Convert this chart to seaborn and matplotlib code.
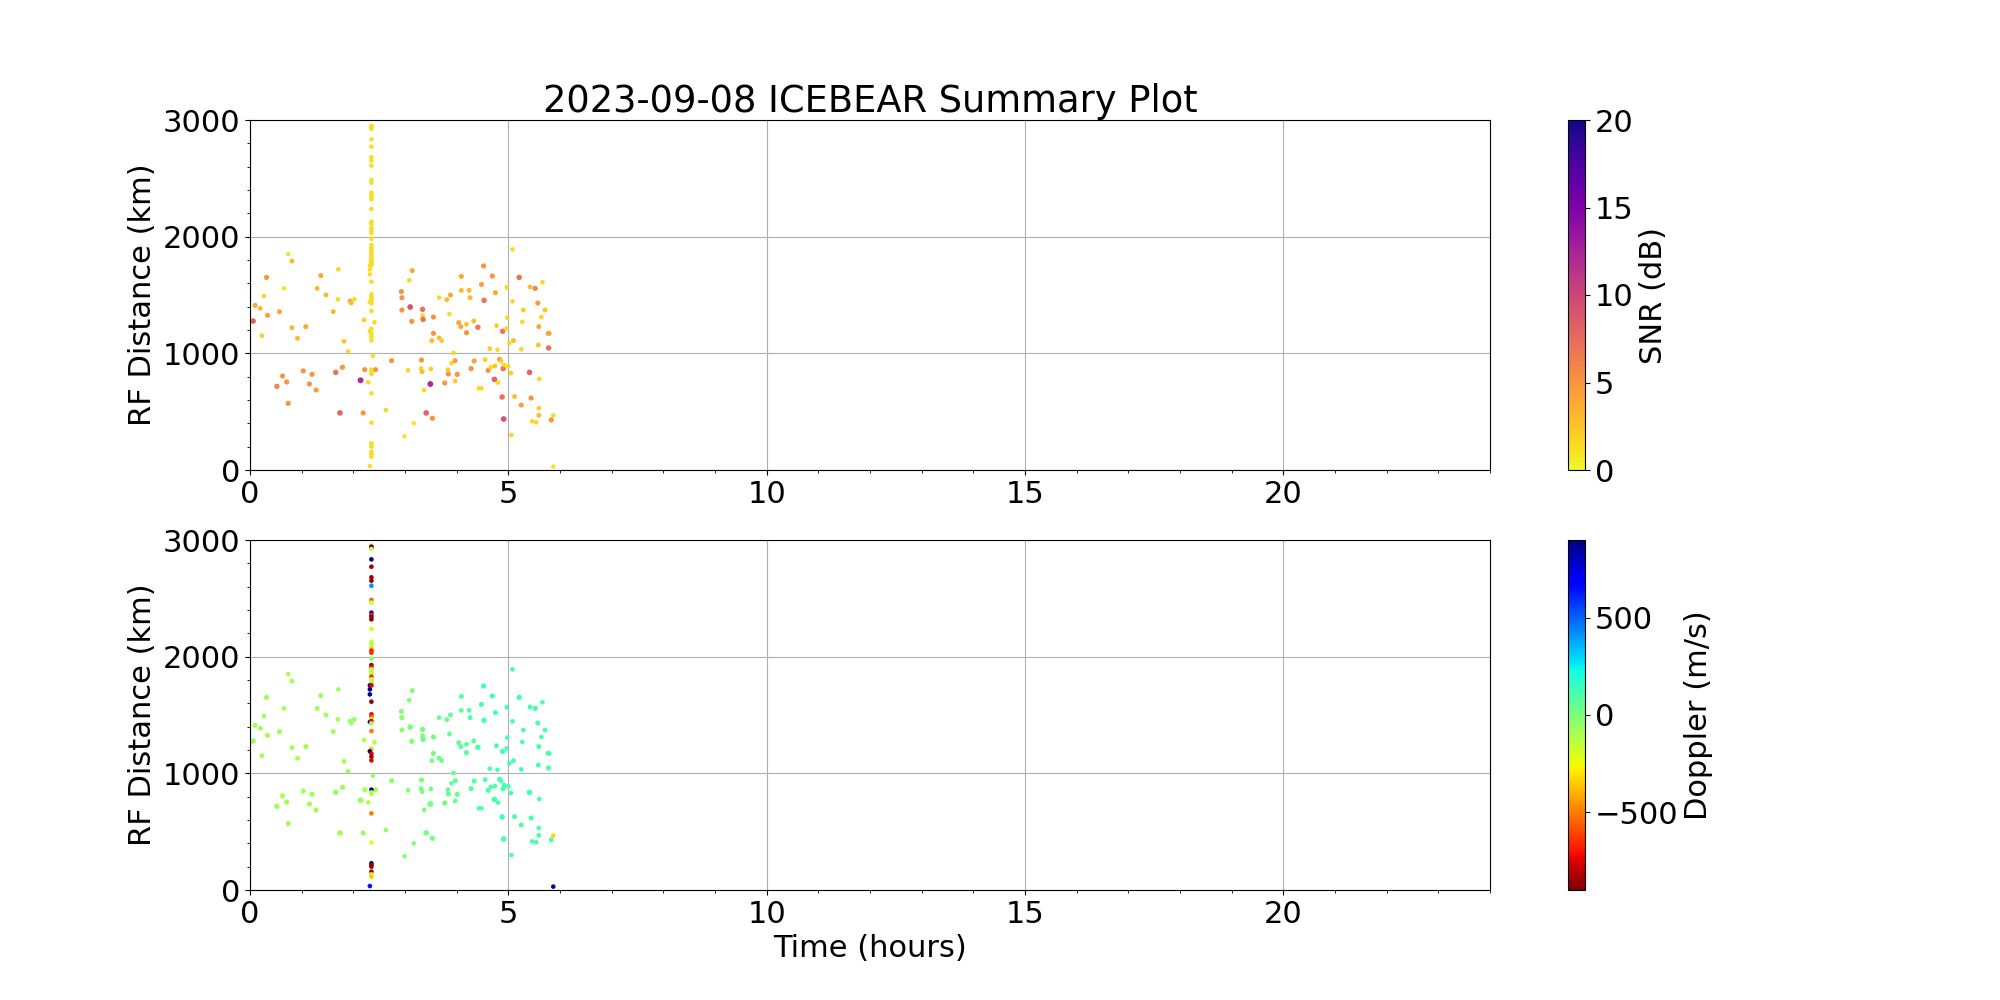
import pandas as pd
import seaborn as sns
import matplotlib
matplotlib.use('Agg')
import matplotlib.pyplot as plt
from matplotlib.colors import Normalize
from matplotlib.cm import ScalarMappable
from matplotlib.ticker import MultipleLocator

# scattered echoes: time (h), rf distance (km), snr (dB), doppler (m/s)
time_hr = [
    0.06, 0.10, 0.20, 0.23, 0.27, 0.32, 0.34, 0.52, 0.57, 0.63, 0.66, 0.71, 0.74, 0.74, 0.81, 0.81, 0.92,
    1.03, 1.08, 1.15, 1.20, 1.28, 1.30, 1.37, 1.47, 1.61, 1.66, 1.70, 1.71, 1.74, 1.79, 1.82, 1.90, 1.94,
    1.96, 2.02, 2.14, 2.19, 2.63, 2.74, 2.93, 2.94, 2.94, 2.99, 3.06, 3.08, 3.10, 3.13, 3.14, 3.17, 3.31,
    3.32, 3.33, 3.34, 3.34, 3.35, 3.37, 3.41, 3.49, 3.50, 3.52, 3.53, 3.55, 3.55, 3.66, 3.66, 3.71, 3.77,
    3.81, 3.83, 3.84, 3.86, 3.88, 3.90, 3.94, 3.97, 3.97, 4.01, 4.04, 4.08, 4.09, 4.09, 4.19, 4.19, 4.24,
    4.26, 4.28, 4.33, 4.34, 4.41, 4.43, 4.48, 4.48, 4.52, 4.53, 4.55, 4.61, 4.64, 4.66, 4.69, 4.73, 4.74,
    4.75, 4.77, 4.79, 4.80, 4.83, 4.86, 4.88, 4.89, 4.90, 4.91, 4.92, 4.97, 4.97, 4.98, 5.00, 5.02, 5.05,
    5.06, 5.08, 5.08, 5.10, 5.12, 5.21, 5.25, 5.25, 5.27, 5.29, 5.41, 5.42, 5.44, 5.46, 5.52, 5.54, 5.57,
    5.58, 5.59, 5.59, 5.59, 5.60, 5.64, 5.66, 5.71, 5.77, 5.79, 5.78, 5.83, 5.87, 5.87,
]
rf_dist_km = [
    1277, 1411, 1386, 1151, 1491, 1651, 1326, 717, 1357, 806, 1557, 754, 571, 1851, 1220, 1791, 1129,
    849, 1229, 737, 820, 686, 1557, 1666, 1500, 1357, 837, 1463, 1720, 489, 880, 1103, 1017, 1448,
    1431, 1463, 769, 489, 514, 937, 1529, 1477, 1371, 289, 854, 1626, 1397, 1274, 1709, 400, 871,
    943, 843, 1377, 1323, 1291, 686, 489, 737, 866, 1109, 443, 1311, 1171, 1477, 1131, 1109, 746,
    1460, 860, 823, 1337, 1500, 914, 1003, 937, 763, 820, 1263, 1229, 1660, 1540, 1177, 1249, 1540,
    1477, 869, 1277, 934, 1223, 700, 700, 1591, 1749, 1454, 946, 854, 1040, 883, 1663, 777, 891,
    1520, 1237, 1031, 749, 949, 934, 626, 1189, 869, 437, 900, 1566, 1214, 1306, 889, 1086, 831,
    300, 1891, 1446, 1109, 629, 1651, 557, 1034, 1269, 1371, 837, 1569, 617, 417, 1557, 409, 1431,
    1071, 531, 469, 1229, 780, 1311, 1609, 1371, 1171, 1171, 1046, 429, 466, 29,
]
snr_db = [
    8, 4, 3, 2, 1.5, 5, 4.5, 6, 4, 5, 1, 5, 5, 1, 3, 3, 3,
    5, 4, 5, 5, 4.5, 3, 4, 3, 3, 7, 1.5, 1.5, 8, 5, 2.5, 1.5, 4,
    3, 1.5, 12, 5, 1.5, 5, 5, 5, 5, 1, 1.5, 1.5, 9, 5, 4, 1, 1.5,
    5, 3, 7, 1.5, 7, 1.5, 8, 12, 2, 3, 5, 5, 5, 1.5, 3, 2, 5,
    3, 2, 5, 1.5, 4, 1.5, 1.5, 4.5, 2, 5, 4, 4, 4, 3, 5, 2.5, 3,
    3, 5, 3, 4.5, 7, 1.5, 1.5, 4.5, 5, 7, 2, 5, 2, 1.5, 5, 8, 2.5,
    4, 2, 1.5, 1.5, 4.5, 2, 7, 7, 7, 9, 1.5, 1.5, 1.5, 1.5, 1.5, 1.5, 2,
    1.5, 1.5, 1.5, 3, 3, 7, 4.5, 1.5, 1.5, 2.5, 8, 3, 5, 1.5, 6, 1.5, 4.5,
    2.5, 2, 3, 4, 1.5, 1.5, 1.5, 2.5, 4.5, 4, 7, 5, 1.5, 1,
]
doppler_ms = [
    -70, -80, -80, -90, -80, -70, -80, -90, -80, -90, -80, -80, -90, -100, -80, -90, -80,
    -80, -70, -80, -80, -80, -70, -70, -70, -80, -70, -80, -70, -80, -70, -70, -70, -60,
    -60, -60, -60, -70, -40, -40, -20, -30, -40, -20, -20, -20, 0, -20, -10, -10, 10,
    0, 10, 20, 10, 20, 10, 10, 20, 30, 30, 20, 30, 20, 40, 40, 40, 30,
    50, 50, 40, 60, 50, 50, 60, 60, 50, 60, 70, 70, 90, 80, 80, 80, 90,
    100, 80, 90, 80, 100, 90, 90, 120, 140, 120, 100, 100, 110, 100, 130, 110, 110,
    130, 120, 110, 110, 120, 110, 120, 130, 120, 110, 110, 130, 120, 120, 120, 120, 110,
    100, 110, 120, 120, 110, 110, 100, 120, 120, 110, 110, 120, 110, 100, 110, 100, 110,
    110, 90, 90, 100, 100, 110, 100, 100, 90, 100, 80, 80, -330, 880,
]

# echoes from the 2.35 h burst
burst_time_hr = [
    2.35, 2.35, 2.35, 2.35, 2.35, 2.35, 2.35, 2.35, 2.35, 2.35, 2.35, 2.35, 2.35, 2.35, 2.35, 2.35,
    2.35, 2.35, 2.35, 2.35, 2.35, 2.35, 2.35, 2.35, 2.35, 2.35, 2.35, 2.35, 2.35, 2.35, 2.35, 2.32,
    2.32, 2.32, 2.35, 2.35, 2.35, 2.35, 2.35, 2.32, 2.35, 2.35, 2.21, 2.41, 2.35, 2.35, 2.32, 2.35,
    2.35, 2.38, 2.35, 2.43, 2.22, 2.35, 2.35, 2.29, 2.35, 2.35, 2.35, 2.35, 2.35, 2.35, 2.35, 2.35,
    2.35, 2.32,
]
burst_dist_km = [
    2950, 2942, 2935, 2923, 2834, 2771, 2680, 2651, 2608, 2486, 2463, 2377, 2357, 2343, 2320, 2237,
    2128, 2108, 2071, 2051, 2034, 1983, 1928, 1908, 1891, 1871, 1851, 1828, 1806, 1786, 1771, 1754,
    1720, 1677, 1754, 1614, 1506, 1486, 1466, 1440, 1448, 1428, 1286, 1266, 1363, 1211, 1189, 1169,
    1143, 980, 1111, 860, 860, 860, 837, 751, 823, 657, 406, 229, 214, 200, 157, 134,
    114, 34,
]
burst_snr_db = [
    1.3, 1.3, 1.3, 1.3, 1.3, 1.3, 1.3, 1.3, 1.3, 1.3, 1.3, 1.3, 1.3, 1.3, 1.3, 1.3,
    1.3, 1.3, 1.3, 1.3, 1.3, 1.3, 1.3, 1.3, 1.3, 1.3, 1.3, 1.3, 1.3, 1.3, 1.3, 1.3,
    1.3, 1.3, 1.3, 1.3, 1.3, 1.3, 1.3, 1.3, 1.3, 1.3, 2, 1.5, 1.3, 1.3, 1.3, 1.3,
    1.3, 1.3, 1.3, 5, 5, 1.3, 1.3, 1.5, 1.3, 1.3, 1.3, 1.3, 1.3, 1.3, 1.3, 1.3,
    1.3, 1.3,
]
burst_doppler_ms = [
    -400, -800, 850, -150, 880, -850, -850, -850, 420, -550, -180, 750, -650, -850, -870, -180,
    -150, -100, -350, -700, -650, -30, -870, -700, -150, -120, -150, -650, -120, -200, -80, 850,
    880, 880, -750, -850, -720, -600, -120, 700, -720, -100, -120, -100, -500, -350, 880, -750,
    -870, -60, -750, -100, -100, 880, -100, -120, -100, -500, -200, 880, -870, -850, -850, -150,
    -350, 650,
]

df = pd.DataFrame({
    "time": time_hr + burst_time_hr,
    "dist": rf_dist_km + burst_dist_km,
    "snr": snr_db + burst_snr_db,
    "doppler": doppler_ms + burst_doppler_ms,
})

plt.rcParams['font.size'] = 22

fig, axs = plt.subplots(2, 1, figsize=(20, 10))

snr_norm = Normalize(vmin=0, vmax=20)
dop_norm = Normalize(vmin=-900, vmax=900)

# top: snr, bottom: doppler
sns.scatterplot(data=df, x="time", y="dist", hue="snr", hue_norm=snr_norm, palette="plasma_r",
                size="snr", sizes=(10, 18), size_norm=(0, 10), linewidth=0, legend=False, ax=axs[0])
sns.scatterplot(data=df, x="time", y="dist", hue="doppler", hue_norm=dop_norm, palette="jet_r",
                size="snr", sizes=(10, 18), size_norm=(0, 10), linewidth=0, legend=False, ax=axs[1])

for ax in axs:
    ax.set_xlim(0, 24)
    ax.set_ylim(0, 3000)
    ax.set_xticks([0, 5, 10, 15, 20])
    ax.set_yticks([0, 1000, 2000, 3000])
    ax.xaxis.set_minor_locator(MultipleLocator(1))
    ax.yaxis.set_minor_locator(MultipleLocator(200))
    ax.set_axisbelow(True)
    ax.grid(True, which='major')
    ax.set_ylabel("RF Distance (km)")
    ax.set_xlabel("")

axs[0].set_title("2023-09-08 ICEBEAR Summary Plot", fontsize=26.5)
axs[1].set_xlabel("Time (hours)")

cb1 = fig.colorbar(ScalarMappable(norm=snr_norm, cmap="plasma_r"), ax=axs[0])
cb1.set_label("SNR (dB)")
cb1.set_ticks([0, 5, 10, 15, 20])
cb2 = fig.colorbar(ScalarMappable(norm=dop_norm, cmap="jet_r"), ax=axs[1])
cb2.set_label("Doppler (m/s)")
cb2.set_ticks([-500, 0, 500])

plt.savefig("out.png", dpi=100)
